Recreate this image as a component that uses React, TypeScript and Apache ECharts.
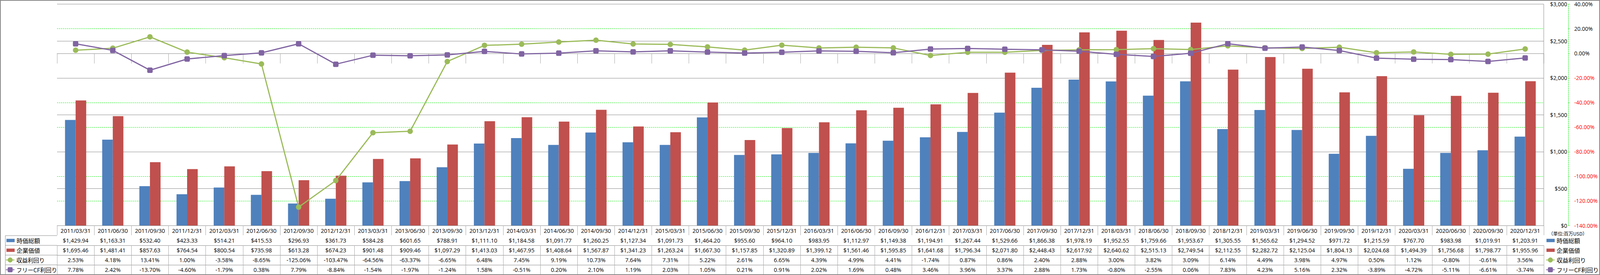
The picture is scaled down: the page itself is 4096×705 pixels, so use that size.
import React, { useEffect, useRef } from "react";
import * as echarts from "echarts";

const dates = [
  "2011/03/31", "2011/06/30", "2011/09/30", "2011/12/31", "2012/03/31", "2012/06/30", "2012/09/30", "2012/12/31",
  "2013/03/31", "2013/06/30", "2013/09/30", "2013/12/31", "2014/03/31", "2014/06/30", "2014/09/30", "2014/12/31",
  "2015/03/31", "2015/06/30", "2015/09/30", "2015/12/31", "2016/03/31", "2016/06/30", "2016/09/30", "2016/12/31",
  "2017/03/31", "2017/06/30", "2017/09/30", "2017/12/31", "2018/03/31", "2018/06/30", "2018/09/30", "2018/12/31",
  "2019/03/31", "2019/06/30", "2019/09/30", "2019/12/31", "2020/03/31", "2020/06/30", "2020/09/30", "2020/12/31",
];

const marketCap = [
  1429.94, 1163.31, 532.4, 423.33, 514.21, 415.53, 296.93, 361.73,
  584.28, 601.65, 788.91, 1111.1, 1184.58, 1091.77, 1260.25, 1127.34,
  1091.73, 1464.2, 955.6, 964.1, 983.95, 1112.97, 1149.38, 1194.91,
  1267.44, 1529.66, 1866.38, 1978.19, 1952.55, 1759.66, 1953.67, 1305.55,
  1565.62, 1294.52, 971.72, 1215.59, 767.7, 983.98, 1019.91, 1203.91,
];

const enterpriseValue = [
  1695.46, 1481.41, 857.63, 764.54, 800.54, 735.98, 613.28, 674.23,
  901.48, 909.46, 1097.29, 1413.03, 1467.95, 1408.64, 1567.87, 1341.23,
  1263.24, 1667.3, 1157.85, 1320.89, 1399.12, 1561.46, 1595.85, 1641.68,
  1796.34, 2071.8, 2448.43, 2617.92, 2640.62, 2515.13, 2749.54, 2112.55,
  2282.72, 2125.04, 1804.13, 2024.68, 1494.39, 1756.68, 1798.77, 1955.96,
];

const earningsYield = [
  2.53, 4.18, 13.41, 1.0, -3.58, -8.65, -125.06, -103.47,
  -64.56, -63.37, -6.65, 6.48, 7.45, 9.19, 10.73, 7.64,
  7.31, 5.22, 2.61, 6.65, 4.39, 4.99, 4.41, -1.74,
  0.87, 0.86, 2.4, 2.88, 3.0, 3.82, 3.09, 6.14,
  4.49, 3.98, 4.97, 0.5, 1.12, -0.8, -0.61, 3.56,
];

const fcfYield = [
  7.78, 2.42, -13.7, -4.6, -1.79, 0.38, 7.79, -8.84,
  -1.54, -1.97, -1.24, 1.58, -0.51, 0.2, 2.1, 1.19,
  2.03, 1.05, 0.21, 0.91, 2.02, 1.69, 0.48, 3.46,
  3.96, 3.37, 2.88, 1.73, -0.8, -2.55, 0.06, 7.83,
  4.23, 5.16, 2.32, -3.89, -4.72, -5.11, -6.61, -3.74,
];

const seriesNames = ["時価総額", "企業価値", "収益利回り", "フリーCF利回り"];
const unitLabel = "（単位:百万USD）";

const dollarMin = 0;
const dollarMax = 3000;
const dollarStep = 500;
const pctMin = -140;
const pctMax = 40;
const pctStep = 20;

const BLUE = "#4f81bd";
const RED = "#c0504d";
const GREEN = "#9bbb59";
const PURPLE = "#8064a2";
const GRAY = "#888888";
const LIGHTGRAY = "#a6a6a6";

const W = 4096;
const H = 705;
const GL = 146;
const GR = 3952;
const GT = 10.7;
const GB = 578;
const rowOffsets = [26, 51, 76, 101];
const ROWH = 25;

const money = (v: number) =>
  "$" + v.toLocaleString("en-US", { minimumFractionDigits: 2, maximumFractionDigits: 2 });
const pct = (v: number) => v.toFixed(2) + "%";

const TABLE_FONT = "'Open Sans', 'DejaVu Sans', sans-serif";
const CJK_FONT = "'Noto Sans CJK JP', sans-serif";

export default function App() {
  const ref = useRef<HTMLDivElement>(null);
  useEffect(() => {
    if (!ref.current) return;
    const chart = echarts.init(ref.current, undefined, { renderer: "svg" });

    const rowData = [
      marketCap.map(money),
      enterpriseValue.map(money),
      earningsYield.map(pct),
      fcfYield.map(pct),
    ];

    const extraAxes = rowData.map((labels, k) => ({
      type: "category",
      gridIndex: 0,
      position: "bottom",
      offset: rowOffsets[k],
      data: dates,
      boundaryGap: true,
      axisLine: { show: true, lineStyle: { color: GRAY, width: 1 } },
      axisTick: { show: true, interval: 0, length: ROWH, lineStyle: { color: LIGHTGRAY, width: 1 } },
      axisLabel: {
        interval: 0,
        margin: ROWH / 2,
        verticalAlign: "middle",
        color: "#000",
        fontFamily: TABLE_FONT,
        fontSize: 14.5,
        formatter: (_v: string, i: number) => labels[i],
      },
      splitLine: { show: false },
    }));

    const legendText = (size: number) => ({
      color: "#000",
      fontFamily: CJK_FONT,
      fontSize: size,
      lineHeight: 20,
    });

    const row1Top = GB + rowOffsets[0];
    const row3Top = GB + rowOffsets[2];

    const option: any = {
      animation: false,
      backgroundColor: "#ffffff",
      grid: { left: GL, right: W - GR, top: GT, bottom: H - GB, containLabel: false },
      legend: [
        {
          data: [seriesNames[0], seriesNames[1]],
          orient: "vertical",
          left: 16.5,
          top: row1Top + ROWH / 2 - 10,
          padding: 0,
          itemGap: ROWH - 20,
          itemWidth: 21,
          itemHeight: 8.5,
          icon: "rect",
          selectedMode: false,
          textStyle: legendText(15),
        },
        {
          data: [seriesNames[2], seriesNames[3]],
          orient: "vertical",
          left: 14,
          top: row3Top + ROWH / 2 - 10,
          padding: 0,
          itemGap: ROWH - 20,
          itemWidth: 22,
          itemHeight: 16,
          selectedMode: false,
          textStyle: legendText(14.5),
        },
        {
          data: [seriesNames[0], seriesNames[1]],
          orient: "vertical",
          left: 3959,
          top: row1Top + ROWH / 2 - 10,
          padding: 0,
          itemGap: ROWH - 20,
          itemWidth: 21,
          itemHeight: 8.5,
          icon: "rect",
          selectedMode: false,
          textStyle: legendText(15),
        },
        {
          data: [seriesNames[2], seriesNames[3]],
          orient: "vertical",
          left: 3957,
          top: row3Top + ROWH / 2 - 10,
          padding: 0,
          itemGap: ROWH - 20,
          itemWidth: 22,
          itemHeight: 16,
          selectedMode: false,
          textStyle: legendText(15),
        },
      ],
      xAxis: [
        {
          type: "category",
          gridIndex: 0,
          position: "bottom",
          data: dates,
          boundaryGap: true,
          axisLine: { show: true, lineStyle: { color: GRAY, width: 1 } },
          axisTick: { show: true, interval: 0, length: rowOffsets[0], lineStyle: { color: LIGHTGRAY, width: 1 } },
          axisLabel: {
            interval: 0,
            margin: rowOffsets[0] / 2,
            verticalAlign: "middle",
            color: "#000",
            fontFamily: TABLE_FONT,
            fontSize: 14.5,
          },
          splitLine: { show: false },
        },
        ...extraAxes,
      ],
      yAxis: [
        {
          type: "value",
          position: "right",
          offset: 63,
          min: pctMin,
          max: pctMax,
          interval: pctStep,
          axisLine: { show: true, lineStyle: { color: "#00ee00", type: [3, 2], width: 1 } },
          axisTick: { show: true, length: 5, lineStyle: { color: "#00ee00", type: [3, 2], width: 1 } },
          axisLabel: {
            margin: 15,
            fontFamily: TABLE_FONT,
            fontSize: 14,
            formatter: (v: number) => v.toFixed(2) + "%",
            color: (v: any) => (Number(v) < 0 ? "#ff0000" : "#000000"),
          },
          splitLine: { show: true, lineStyle: { color: "#00ee00", type: [3, 2], width: 1 } },
        },
        {
          type: "value",
          position: "right",
          offset: 60,
          min: dollarMin,
          max: dollarMax,
          interval: dollarStep,
          axisLine: { show: false },
          axisTick: { show: false },
          axisLabel: {
            margin: 0,
            align: "right",
            color: "#000",
            fontFamily: TABLE_FONT,
            fontSize: 14,
            formatter: (v: number) => "$" + v.toLocaleString("en-US"),
          },
          splitLine: { show: true, lineStyle: { color: GRAY, width: 1 } },
        },
      ],
      series: [
        {
          name: seriesNames[0],
          type: "bar",
          xAxisIndex: 0,
          yAxisIndex: 1,
          data: marketCap,
          barWidth: "28.5%",
          barGap: "0%",
          itemStyle: { color: BLUE },
        },
        {
          name: seriesNames[1],
          type: "bar",
          xAxisIndex: 0,
          yAxisIndex: 1,
          data: enterpriseValue,
          barWidth: "28.5%",
          barGap: "0%",
          itemStyle: { color: RED },
        },
        {
          name: seriesNames[2],
          type: "line",
          xAxisIndex: 0,
          yAxisIndex: 0,
          data: earningsYield,
          symbol: "circle",
          symbolSize: 14,
          lineStyle: { color: GREEN, width: 3 },
          itemStyle: { color: GREEN },
          z: 3,
        },
        {
          name: seriesNames[3],
          type: "line",
          xAxisIndex: 0,
          yAxisIndex: 0,
          data: fcfYield,
          symbol: "roundRect",
          symbolSize: 14,
          lineStyle: { color: PURPLE, width: 3 },
          itemStyle: { color: PURPLE },
          z: 4,
        },
      ],
      graphic: [
        {
          type: "line",
          shape: { x1: GR, y1: GT, x2: GR, y2: GB },
          style: { stroke: GRAY, lineWidth: 1 },
          z: 10,
        },
        ...rowOffsets.map((o) => ({
          type: "line",
          shape: { x1: 13.7, y1: GB + o, x2: GL, y2: GB + o },
          style: { stroke: GRAY, lineWidth: 1 },
          z: 10,
        })),
        {
          type: "line",
          shape: { x1: 13.7, y1: GB + rowOffsets[0], x2: 13.7, y2: H },
          style: { stroke: GRAY, lineWidth: 1 },
          z: 10,
        },
        {
          type: "text",
          x: 3964,
          y: 598,
          style: {
            text: unitLabel,
            fill: "#000",
            font: "12px 'Noto Sans CJK JP', sans-serif",
            textVerticalAlign: "middle",
            verticalAlign: "middle",
          },
          z: 10,
        },
        {
          type: "rect",
          shape: { x: 1, y: 1, width: W - 2, height: H - 2 },
          style: { fill: "none", stroke: GRAY, lineWidth: 2 },
          z: 20,
        },
      ],
    };

    chart.setOption(option);
    return () => chart.dispose();
  }, []);

  return (
    <div
      ref={ref}
      style={{ position: "absolute", left: 0, top: 0, width: W + "px", height: H + "px", background: "#fff" }}
    />
  );
}
